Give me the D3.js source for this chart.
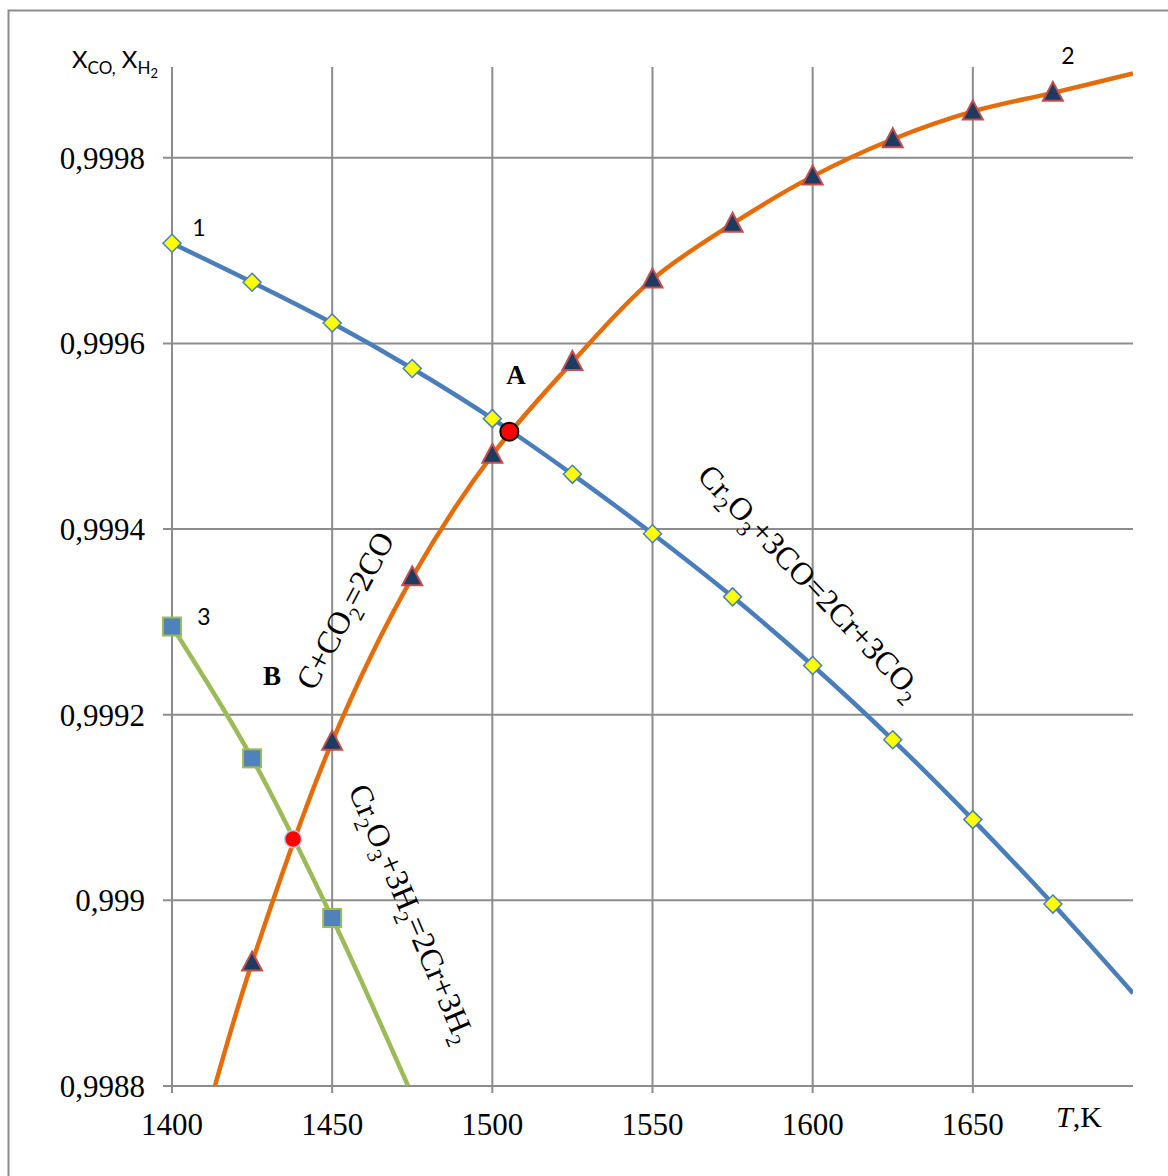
<!DOCTYPE html>
<html>
<head>
<meta charset="utf-8">
<script src="https://cdn.jsdelivr.net/npm/d3@7"></script>
<style>
  html, body { margin: 0; padding: 0; background: #fff; }
  svg { display: block; }
  .serif { font-family: "Liberation Serif", "Times New Roman", serif; fill: #000; }
  .sans { font-family: Lato, "Open Sans", "Liberation Sans", sans-serif; fill: #000; }
</style>
</head>
<body>
<svg id="chart" width="1168" height="1176"></svg>
<script>
// Equilibrium CO / H2 content vs temperature, Cr2O3 reduction.

const xTicks = [1400, 1450, 1500, 1550, 1600, 1650];
const yTicks = [0.9988, 0.999, 0.9992, 0.9994, 0.9996, 0.9998];

// curve 1: Cr2O3 + 3CO = 2Cr + 3CO2
const temps1 = [1400, 1425, 1450, 1475, 1500, 1525, 1550, 1575, 1600, 1625, 1650, 1675];
const vals1 = [0.999708, 0.999666, 0.999622, 0.999573, 0.999519, 0.999459, 0.999395, 0.999327, 0.999253, 0.999173, 0.999087, 0.998996];
const tail1 = [[1700, 0.99890]];

// curve 2: C + CO2 = 2CO
const temps2 = [1425, 1450, 1475, 1500, 1525, 1550, 1575, 1600, 1625, 1650, 1675];
const vals2 = [0.998933, 0.999171, 0.999348, 0.999480, 0.999580, 0.999669, 0.999729, 0.999780, 0.999820, 0.999850, 0.999870];
const head2 = [[1413.4, 0.9988]];
const tail2 = [[1700, 0.999891]];

// curve 3: Cr2O3 + 3H2 = 2Cr + 3H2
const temps3 = [1400, 1425, 1450];
const vals3 = [0.999295, 0.999153, 0.998981];
const tail3 = [[1473.7, 0.9988]];

// intersection points
const pointA = [1505.3, 0.999505];
const pointB = [1437.8, 0.999066];

const SERIF = '"Liberation Serif", "Times New Roman", serif';

const svg = d3.select('#chart');
const x = d3.scaleLinear().domain([1400, 1700]).range([172, 1133]);
const y = d3.scaleLinear().domain([0.9988, 0.9999]).range([1086, 65]);

const ruLocale = d3.formatLocale({ decimal: ',', thousands: ' ', grouping: [3], currency: ['', ''] });
const fmtY = ruLocale.format('.4~f');

// outer frame (only left and top visible)
svg.append('rect')
  .attr('x', 8.5).attr('y', 10.5).attr('width', 1300).attr('height', 1300)
  .attr('fill', 'none').attr('stroke', '#8c8c8c').attr('stroke-width', 2);

// grid
const grid = svg.append('g').attr('stroke', '#8c8c8c').attr('stroke-width', 2);
grid.selectAll('line.v').data(xTicks).join('line')
  .attr('class', 'v')
  .attr('x1', (d) => x(d)).attr('x2', (d) => x(d))
  .attr('y1', y(0.9999) + 2).attr('y2', y(0.9988) + 7);
grid.selectAll('line.h').data(yTicks).join('line')
  .attr('class', 'h')
  .attr('x1', x(1400) - 9).attr('x2', x(1700))
  .attr('y1', (d) => y(d)).attr('y2', (d) => y(d));

// tick labels
svg.append('g').selectAll('text').data(yTicks).join('text')
  .attr('class', 'serif').attr('font-family', SERIF)
  .attr('x', 145).attr('y', (d) => y(d) + 11)
  .attr('text-anchor', 'end')
  .attr('font-size', 31)
  .text((d) => fmtY(d));

svg.append('g').selectAll('text').data(xTicks).join('text')
  .attr('class', 'serif').attr('font-family', SERIF)
  .attr('x', (d) => x(d)).attr('y', 1135)
  .attr('text-anchor', 'middle')
  .attr('font-size', 31)
  .text((d) => d);

const tk = svg.append('text').attr('class', 'serif').attr('x', 1056).attr('y', 1127).attr('font-size', 30);
tk.append('tspan').attr('font-style', 'italic').text('T');
tk.append('tspan').text(',K');

// y axis title X_CO, X_H2
const yt = svg.append('text').attr('class', 'sans').attr('x', 72).attr('y', 68).attr('font-size', 24);
yt.append('tspan').text('X');
yt.append('tspan').attr('font-size', 17).attr('dy', 6).text('CO,');
yt.append('tspan').attr('dy', -6).text(' X');
yt.append('tspan').attr('font-size', 17).attr('dy', 6).text('H');
yt.append('tspan').attr('font-size', 13).attr('dy', 4).text('2');

// lines
const line = d3.line().x((d) => x(d[0])).y((d) => y(d[1])).curve(d3.curveCatmullRom.alpha(0.5));
svg.append('clipPath').attr('id', 'plot').append('rect')
  .attr('x', x(1400) - 20).attr('y', y(0.9999) - 20)
  .attr('width', x(1700) - x(1400) + 20).attr('height', y(0.9988) - y(0.9999) + 20);
const lines = svg.append('g').attr('clip-path', 'url(#plot)').attr('fill', 'none').attr('stroke-width', 4.5);

const pts1 = temps1.map((t, i) => [t, vals1[i]]);
const pts2 = temps2.map((t, i) => [t, vals2[i]]);
const pts3 = temps3.map((t, i) => [t, vals3[i]]);

lines.append('path').attr('d', line(pts3.concat(tail3))).attr('stroke', '#9bbb59');
lines.append('path').attr('d', line(head2.concat(pts2, tail2))).attr('stroke', '#e46c0a');
lines.append('path').attr('d', line(pts1.concat(tail1))).attr('stroke', '#4a7ebb');

// markers
svg.append('g').selectAll('rect').data(pts3).join('rect')
  .attr('x', (d) => x(d[0]) - 9).attr('y', (d) => y(d[1]) - 9)
  .attr('width', 18).attr('height', 18)
  .attr('fill', '#4f81bd').attr('stroke', '#9bbb59').attr('stroke-width', 2);

svg.append('g').selectAll('path').data(pts2).join('path')
  .attr('transform', (d) => `translate(${x(d[0])},${y(d[1])})`)
  .attr('d', 'M0,-11L10,8L-10,8Z')
  .attr('fill', '#1f3a60').attr('stroke', '#c0504d').attr('stroke-width', 2);

svg.append('g').selectAll('path').data(pts1).join('path')
  .attr('transform', (d) => `translate(${x(d[0])},${y(d[1])})`)
  .attr('d', 'M0,-9L9,0L0,9L-9,0Z')
  .attr('fill', '#ffff00').attr('stroke', '#4a7ebb').attr('stroke-width', 1.5);

// intersection points
svg.append('circle').attr('cx', x(pointA[0])).attr('cy', y(pointA[1])).attr('r', 9)
  .attr('fill', '#ff0000').attr('stroke', '#000').attr('stroke-width', 2);
svg.append('circle').attr('cx', x(pointB[0])).attr('cy', y(pointB[1])).attr('r', 8.5)
  .attr('fill', '#ff0000').attr('stroke', '#b9cdf0').attr('stroke-width', 1.5);

// point & curve labels
function label(cls, px, py, size, txt, weight) {
  svg.append('text').attr('class', cls).attr('x', px).attr('y', py)
    .attr('font-size', size).attr('font-weight', weight || 'normal')
    .attr('text-anchor', 'middle').text(txt);
}
label('serif', 516, 384, 27, 'A', 'bold');
label('serif', 272, 685, 27, 'B', 'bold');
label('sans', 199, 236, 23, '1');
label('sans', 1068, 64, 23, '2');
label('sans', 204, 625, 23, '3');

// rotated reaction labels; parts: [text, isSub]
function reaction(px, py, angle, parts) {
  const t = svg.append('text').attr('class', 'serif').attr('font-size', 32)
    .attr('transform', `translate(${px},${py}) rotate(${angle})`);
  let sub = false;
  parts.forEach(([s, isSub]) => {
    const sp = t.append('tspan').text(s);
    if (isSub && !sub) sp.attr('dy', 8).attr('font-size', 21);
    else if (isSub) sp.attr('font-size', 21);
    else if (sub) sp.attr('dy', -8);
    sub = isSub;
  });
}
reaction(314, 692, -62, [['C+CO', false], ['2', true], ['=2CO', false]]);
reaction(696, 477, 46.5, [['Cr', false], ['2', true], ['O', false], ['3', true], ['+3CO=2Cr+3CO', false], ['2', true]]);
reaction(348, 790, 67, [['Cr', false], ['2', true], ['O', false], ['3', true], ['+3H', false], ['2', true], ['=2Cr+3H', false], ['2', true]]);
</script>
</body>
</html>
